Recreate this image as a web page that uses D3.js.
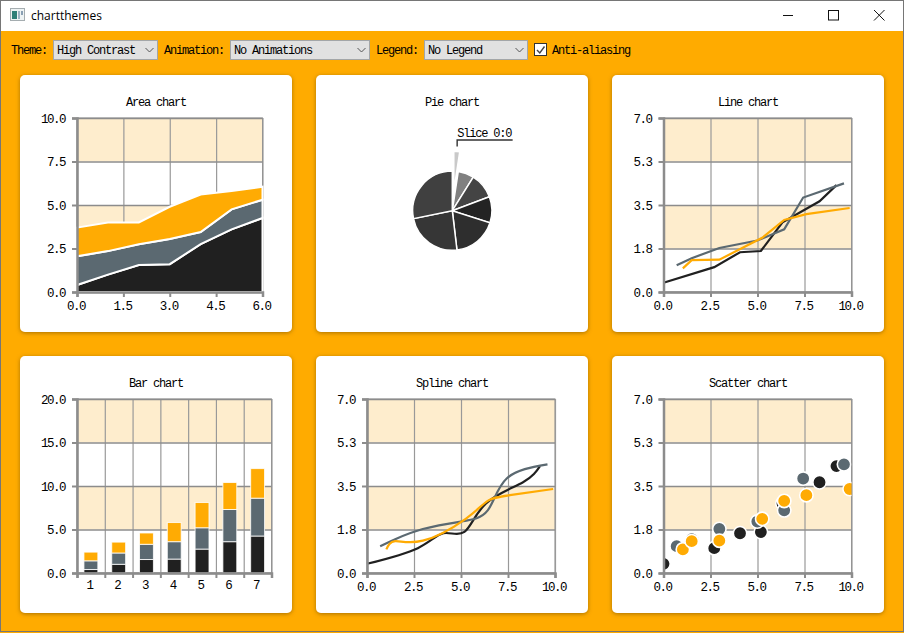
<!DOCTYPE html>
<html>
<head>
<meta charset="utf-8">
<title>chartthemes</title>
<script src="https://cdn.jsdelivr.net/npm/d3@7"></script>
<style>
  html, body { margin: 0; padding: 0; background: #fff; overflow: hidden; }
  svg { display: block; }
  text { font-family: "Liberation Mono", monospace; font-size: 12px; letter-spacing: -1.2px; fill: #000; }
  .axis text { font-size: 12.5px; letter-spacing: -1.5px; }
</style>
</head>
<body>
<div id="app"></div>
<script>
// Values
const areaX = [0, 1, 2, 3, 4, 5, 6];
const areaBlack = [0.4, 1.0, 1.55, 1.6, 2.75, 3.6, 4.25];
const areaGrey = [2.05, 2.35, 2.75, 3.05, 3.45, 4.75, 5.3];
const areaOrange = [3.7, 4.0, 4.0, 4.9, 5.6, 5.8, 6.05];

const barCategories = ["1", "2", "3", "4", "5", "6", "7"];
const barBlack = [0.4, 1.0, 1.55, 1.6, 2.75, 3.6, 4.25];
const barGrey = [1.0, 1.3, 1.75, 2.0, 2.45, 3.7, 4.35];
const barOrange = [1.0, 1.25, 1.3, 2.2, 2.9, 3.1, 3.4];

const blackX = [0, 2.7, 4.07, 5.18, 6.33, 8.3, 9.2];
const blackY = [0.37, 1.0, 1.6, 1.65, 2.8, 3.65, 4.3];
const greyX = [0.7, 1.5, 2.97, 4.99, 6.42, 7.43, 9.6];
const greyY = [1.08, 1.36, 1.77, 2.07, 2.52, 3.8, 4.37];
const orangeX = [1.03, 1.5, 2.97, 5.25, 6.42, 7.6, 9.9];
const orangeY = [0.95, 1.28, 1.3, 2.18, 2.9, 3.13, 3.38];

const pieValues = [0.37, 1.0, 1.6, 1.65, 2.8, 3.65, 4.35];
const pieLabel = "Slice 0:0";

const ticksX10 = [0, 2.5, 5, 7.5, 10];
const ticksY7 = [0, 1.75, 3.5, 5.25, 7];
const ticksAreaX = [0, 1.5, 3, 4.5, 6];
const ticksAreaY = [0, 2.5, 5, 7.5, 10];
const ticksBarY = [0, 5, 10, 15, 20];

const comboLabels = ["Theme:", "Animation:", "Legend:"];
const comboValues = ["High Contrast", "No Animations", "No Legend"];

// Colours
const BLACK = "#202020", GREY = "#5b6971", ORANGE = "#ffab03";
const TINT = "#feedcd", AXIS = "#8c8c8c";
const pieColors = ["#c9c9c9", "#808080", "#444444", "#232323", "#2e2e2e", "#363636", "#404040"];

const width = 904, height = 633;
const svg = d3.select("#app").append("svg").attr("width", width).attr("height", height);
const defs = svg.append("defs");
const shadow = defs.append("filter").attr("id", "shadow")
  .attr("x", "-5%").attr("y", "-5%").attr("width", "110%").attr("height", "110%");
shadow.append("feDropShadow").attr("dx", 0).attr("dy", 1).attr("stdDeviation", 2)
  .attr("flood-color", "#7a5200").attr("flood-opacity", 0.65);

// Window frame and title bar
svg.append("rect").attr("width", width).attr("height", height).attr("fill", "#ffab00");
svg.append("rect").attr("width", width).attr("height", 31).attr("fill", "#fff");
svg.append("rect").attr("x", 0.5).attr("y", 0.5).attr("width", width - 1).attr("height", height - 2)
  .attr("fill", "none").attr("stroke", "#767676");

const icon = svg.append("g").attr("transform", "translate(10,8)");
icon.append("rect").attr("x", 0.5).attr("y", 0.5).attr("width", 14).attr("height", 12).attr("fill", "#eef3f4").attr("stroke", "#a5adb0");
icon.append("rect").attr("x", 2).attr("y", 3).attr("width", 5).attr("height", 8).attr("fill", "#2f7f78");
icon.append("rect").attr("x", 8).attr("y", 3).attr("width", 2).attr("height", 8).attr("fill", "#9fb4c4");
icon.append("rect").attr("x", 11).attr("y", 3).attr("width", 2).attr("height", 4).attr("fill", "#8aa0b4");

svg.append("text").attr("x", 31).attr("y", 20)
  .style("font-family", "'Open Sans', sans-serif").style("font-size", "12px").style("letter-spacing", "0")
  .text("chartthemes");

const btn = svg.append("g").attr("fill", "none").attr("stroke", "#111").attr("stroke-width", 1);
btn.append("path").attr("d", "M783 15.5H793");
btn.append("rect").attr("x", 828.5).attr("y", 10.5).attr("width", 10).attr("height", 9.5);
btn.append("path").attr("d", "M874 10L884.5 20.5M884.5 10L874 20.5");

// Toolbar
const labelX = [11, 164, 376];
const comboX = [53.5, 230.5, 424.5];
const comboW = [104, 139, 103];
comboLabels.forEach((label, i) => {
  svg.append("text").attr("x", labelX[i]).attr("y", 54).text(label);
  svg.append("rect").attr("x", comboX[i]).attr("y", 40.5).attr("width", comboW[i]).attr("height", 19)
    .attr("fill", "#e1e1e1").attr("stroke", "#a3a6a8");
  svg.append("text").attr("x", comboX[i] + 3.5).attr("y", 54).text(comboValues[i]);
  const cx = comboX[i] + comboW[i] - 8;
  svg.append("path").attr("d", `M${cx - 4} 48L${cx} 52L${cx + 4} 48`)
    .attr("fill", "none").attr("stroke", "#555");
});
svg.append("rect").attr("x", 534.5).attr("y", 43.5).attr("width", 12).attr("height", 12)
  .attr("fill", "#fff").attr("stroke", "#333");
svg.append("path").attr("d", "M537 50L539.8 53L544.5 46.5").attr("fill", "none").attr("stroke", "#444").attr("stroke-width", 1.4);
svg.append("text").attr("x", 552).attr("y", 54).text("Anti-aliasing");

// Panel with title
function panel(px, py, title) {
  svg.append("rect").attr("x", px).attr("y", py).attr("width", 272).attr("height", 257)
    .attr("rx", 5).attr("fill", "#fff").attr("filter", "url(#shadow)");
  svg.append("text").attr("x", px + 136).attr("y", py + 31).attr("text-anchor", "middle").text(title);
}

// Shaded bands, grid and frame, returns the layer the marks go on
function plotBase(px, py, pw, ph, y, yTicks) {
  const g = svg.append("g").attr("transform", `translate(${px},${py})`);
  d3.pairs(yTicks).forEach(([lo, hi], i) => {
    if (i % 2 === 1) {
      g.append("rect").attr("x", 0).attr("width", pw)
        .attr("y", y(hi)).attr("height", y(lo) - y(hi)).attr("fill", TINT);
    }
  });
  g.append("rect").attr("width", pw).attr("height", ph).attr("fill", "none").attr("stroke", AXIS);
  return g;
}

function styleAxis(sel) {
  sel.attr("class", "axis");
  sel.selectAll("path.domain").attr("stroke", AXIS).attr("stroke-width", 2.5);
  sel.selectAll(".tick line").attr("stroke", AXIS).attr("stroke-width", 2);
}

function yGrid(g, y, yTicks, pw) {
  const grid = g.append("g").call(d3.axisLeft(y).tickValues(yTicks).tickSize(-pw).tickFormat(""));
  grid.select(".domain").remove();
  grid.selectAll(".tick line").attr("stroke", AXIS).attr("stroke-width", 1.5);
}

function xGrid(g, x, xTicks, ph) {
  const grid = g.append("g").call(d3.axisBottom(x).tickValues(xTicks).tickSize(-ph).tickFormat("")) 
    .attr("transform", `translate(0,${ph})`);
  grid.select(".domain").remove();
  grid.selectAll(".tick line").attr("stroke", "#999").attr("stroke-width", 1.2);
}

function axes(g, x, y, xTicks, yTicks, ph) {
  const fmt = d3.format(".1f");
  g.append("g").attr("transform", `translate(0,${ph})`)
    .call(d3.axisBottom(x).tickValues(xTicks).tickSize(5).tickSizeOuter(5).tickPadding(4).tickFormat(fmt))
    .call(styleAxis)
    .selectAll("text").attr("dx", -1.5);
  g.append("g")
    .call(d3.axisLeft(y).tickValues(yTicks).tickSize(5).tickSizeOuter(5).tickPadding(7).tickFormat(fmt))
    .call(styleAxis);
}

function xyPlot(px, py, pw, ph, xDomain, yDomain, xTicks, yTicks) {
  const x = d3.scaleLinear().domain(xDomain).range([0, pw]);
  const y = d3.scaleLinear().domain(yDomain).range([ph, 0]);
  const g = plotBase(px, py, pw, ph, y, yTicks);
  xGrid(g, x, xTicks, ph);
  yGrid(g, y, yTicks, pw);
  return { g, x, y };
}

const PW = 185.5, PH = 174, BAR_W = 194.5;
const lineSeries = [
  { xs: blackX, ys: blackY, color: BLACK },
  { xs: greyX, ys: greyY, color: GREY },
  { xs: orangeX, ys: orangeY, color: ORANGE }
];

// Area chart
panel(20, 75, "Area chart");
{
  const { g, x, y } = xyPlot(77, 118, PW, PH, [0, 6], [0, 10], ticksAreaX, ticksAreaY);
  const layers = [
    { lower: areaX.map(() => 0), upper: areaBlack, color: BLACK },
    { lower: areaBlack, upper: areaGrey, color: GREY },
    { lower: areaGrey, upper: areaOrange, color: ORANGE }
  ];
  const area = d3.area().x((d, i) => x(areaX[i])).y0((d) => y(d[0])).y1((d) => y(d[1]));
  layers.forEach((l) => {
    g.append("path").datum(l.lower.map((v, i) => [v, l.upper[i]]))
      .attr("d", area).attr("fill", l.color).attr("stroke", "#fff").attr("stroke-width", 2);
  });
  axes(g, x, y, ticksAreaX, ticksAreaY, PH);
}

// Pie chart
panel(316, 75, "Pie chart");
{
  const radius = 39.6;
  const g = svg.append("g").attr("transform", "translate(452.3,210.7)");
  const arcs = d3.pie().sort(null)(pieValues);
  const arc = d3.arc().innerRadius(0).outerRadius(radius);
  const explode = radius * 0.5;
  const offset = (d) => {
    const a = (d.startAngle + d.endAngle) / 2;
    return [Math.sin(a) * explode, -Math.cos(a) * explode];
  };
  g.selectAll("path.slice").data(arcs).enter().append("path").attr("class", "slice")
    .attr("d", arc)
    .attr("transform", (d) => d.index === 0 ? `translate(${offset(d)})` : null)
    .attr("fill", (d) => pieColors[d.index])
    .attr("stroke", "#fff").attr("stroke-width", 1.5);

  // label arm of the exploded slice
  const first = arcs[0];
  const a = (first.startAngle + first.endAngle) / 2;
  const ax = Math.sin(a) * (radius + explode + 5), ay = -Math.cos(a) * (radius + explode + 5);
  const elbowY = ay - 6.5;
  g.append("path").attr("d", `M${ax} ${ay}V${elbowY}H${ax + 55.5}`)
    .attr("fill", "none").attr("stroke", "#333").attr("stroke-width", 1.4);
  g.append("text").attr("x", ax).attr("y", elbowY - 2.5).text(pieLabel);
}

// Line chart
panel(612, 75, "Line chart");
{
  const { g, x, y } = xyPlot(663.5, 118, 188, PH, [0, 10], [0, 7], ticksX10, ticksY7);
  const line = d3.line().x((d) => x(d[0])).y((d) => y(d[1]));
  lineSeries.forEach((s) => {
    g.append("path").datum(d3.zip(s.xs, s.ys)).attr("d", line)
      .attr("fill", "none").attr("stroke", s.color).attr("stroke-width", 2.2);
  });
  axes(g, x, y, ticksX10, ticksY7, PH);
}

// Bar chart
panel(20, 356, "Bar chart");
{
  const y = d3.scaleLinear().domain([0, 20]).range([PH, 0]);
  const x = d3.scaleBand().domain(barCategories).range([0, BAR_W]).paddingInner(0.5).paddingOuter(0.25);
  const edges = d3.scaleLinear().domain([0, barCategories.length]).range([0, BAR_W]);
  const edgeTicks = d3.range(barCategories.length + 1);
  const g = plotBase(77, 399, BAR_W, PH, y, ticksBarY);
  xGrid(g, edges, edgeTicks, PH);
  yGrid(g, y, ticksBarY, BAR_W);

  const rows = barCategories.map((c, i) => ({ c, black: barBlack[i], grey: barGrey[i], orange: barOrange[i] }));
  const stacked = d3.stack().keys(["black", "grey", "orange"])(rows);
  const colors = [BLACK, GREY, ORANGE];
  stacked.forEach((layer, k) => {
    g.selectAll(null).data(layer).enter().append("rect")
      .attr("x", (d) => x(d.data.c))
      .attr("width", x.bandwidth())
      .attr("y", (d) => y(d[1]))
      .attr("height", (d) => y(d[0]) - y(d[1]))
      .attr("fill", colors[k]).attr("stroke", "#fff").attr("stroke-opacity", 0.8).attr("stroke-width", 1);
  });

  g.append("g").attr("transform", `translate(0,${PH})`)
    .call(d3.axisBottom(edges).tickValues(edgeTicks).tickSize(5).tickFormat(""))
    .call(styleAxis);
  const labels = g.append("g").attr("transform", `translate(0,${PH})`)
    .call(d3.axisBottom(x).tickSize(0).tickPadding(7));
  labels.select(".domain").remove();
  labels.attr("class", "axis");
  labels.selectAll("text").attr("dx", -1.5);
  g.append("g")
    .call(d3.axisLeft(y).tickValues(ticksBarY).tickSize(5).tickPadding(7).tickFormat(d3.format(".1f")))
    .call(styleAxis);
}

// Spline chart
panel(316, 356, "Spline chart");
{
  const { g, x, y } = xyPlot(367, 399, 188, PH, [0, 10], [0, 7], ticksX10, ticksY7);
  const spline = d3.line().curve(d3.curveNatural).x((d) => x(d[0])).y((d) => y(d[1]));
  lineSeries.forEach((s) => {
    g.append("path").datum(d3.zip(s.xs, s.ys)).attr("d", spline)
      .attr("fill", "none").attr("stroke", s.color).attr("stroke-width", 2.2);
  });
  axes(g, x, y, ticksX10, ticksY7, PH);
}

// Scatter chart
panel(612, 356, "Scatter chart");
{
  const { g, x, y } = xyPlot(663.5, 399, 188, PH, [0, 10], [0, 7], ticksX10, ticksY7);
  defs.append("clipPath").attr("id", "scatter-clip").append("rect").attr("width", 188).attr("height", PH);
  const dots = g.append("g").attr("clip-path", "url(#scatter-clip)");
  lineSeries.forEach((s) => {
    dots.selectAll(null).data(d3.zip(s.xs, s.ys)).enter().append("circle")
      .attr("cx", (d) => x(d[0])).attr("cy", (d) => y(d[1])).attr("r", 6.7)
      .attr("fill", s.color).attr("stroke", "#fff").attr("stroke-width", 1.6);
  });
  axes(g, x, y, ticksX10, ticksY7, PH);
}
</script>
</body>
</html>
